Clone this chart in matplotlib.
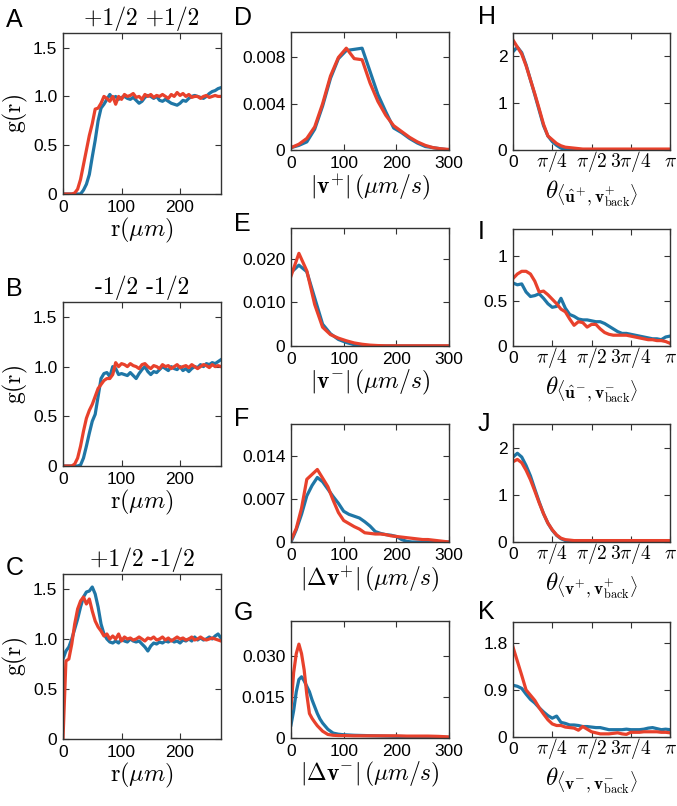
import numpy as np
import matplotlib
matplotlib.use("Agg")
import matplotlib.pyplot as plt

plt.rcParams['font.family'] = ['Liberation Sans', 'DejaVu Sans']
plt.rcParams['mathtext.fontset'] = 'cm'

BLUE = '#1f76a6'
RED = '#e8412c'

# ---- g(r) panels (A, B, C) ----
r = np.arange(0, 271, 5)
A_blue = [0, 0, 0, 0, 0, 0, 0.0, 0.04, 0.1, 0.2, 0.38, 0.55, 0.75, 0.88, 0.92, 0.97, 1.02,
          0.98, 1.0, 0.97, 0.99, 1.0, 0.98, 0.97, 0.99, 0.96, 0.93,
          0.95, 0.99, 1.01, 1.0, 0.98, 1.0, 0.96, 0.95, 0.97, 0.95,
          0.93, 0.92, 0.91, 0.93, 0.96, 0.95, 0.98, 1.0, 1.01, 1.0,
          0.99, 0.98, 1.0, 1.03, 1.05, 1.06, 1.08, 1.09]
A_red = [0, 0, 0, 0, 0.01, 0.05, 0.15, 0.3, 0.45, 0.6, 0.72, 0.87, 0.88, 0.93, 1.0, 0.98, 0.95,
         1.0, 0.92, 1.0, 0.97, 1.02, 1.0, 1.01, 1.03, 0.99, 1.0,
         0.97, 1.02, 1.0, 1.02, 0.99, 1.01, 1.0, 1.02, 1.0, 0.98,
         1.02, 1.0, 1.04, 1.01, 1.03, 1.0, 1.02, 0.99, 1.0, 1.0,
         0.98, 1.0, 1.01, 0.99, 1.0, 1.01, 1.0, 1.0]
B_blue = [0, 0, 0, 0, 0, 0, 0.01, 0.08, 0.2, 0.33, 0.45, 0.52, 0.7, 0.88, 0.93, 0.94, 0.9,
          1.0, 0.98, 0.92, 0.93, 0.92, 0.91, 0.94, 0.91, 0.88, 0.93,
          0.97, 1.0, 0.95, 0.92, 0.95, 0.94, 0.97, 1.0, 0.98, 0.96,
          1.0, 0.98, 0.97, 1.0, 0.96, 0.98, 0.95, 0.98, 1.0, 0.99,
          1.02, 1.0, 1.03, 1.02, 1.04, 1.03, 1.05, 1.07]
B_red = [0, 0, 0, 0, 0.02, 0.08, 0.2, 0.35, 0.48, 0.56, 0.62, 0.7, 0.78, 0.82, 0.86, 0.88, 0.88,
         0.92, 1.04, 1.0, 1.03, 1.02, 1.0, 1.03, 1.01, 1.0, 0.98,
         1.02, 1.03, 1.0, 0.98, 1.01, 1.0, 0.98, 1.02, 1.0, 1.01,
         0.98, 1.0, 1.02, 0.99, 1.0, 1.01, 0.99, 1.02, 1.0, 0.98,
         1.0, 1.02, 1.01, 0.99, 1.02, 1.0, 1.01, 1.0]
C_blue = [0.8, 0.88, 0.92, 1.0, 1.1, 1.2, 1.32, 1.42, 1.47, 1.48, 1.52, 1.45, 1.32, 1.15, 1.05, 1.0, 0.97,
          0.96, 0.98, 0.96, 1.0, 0.98, 0.97, 1.0, 0.98, 0.97, 0.98,
          0.95, 0.92, 0.88, 0.93, 0.96, 0.95, 0.97, 0.96, 0.98, 0.97,
          0.99, 0.97, 0.98, 0.96, 0.99, 0.98, 1.0, 0.98, 1.02, 0.99,
          1.01, 0.99, 1.0, 1.02, 1.0, 1.03, 1.05, 1.01]
C_red = [0.0, 0.78, 0.8, 0.95, 1.15, 1.3, 1.38, 1.42, 1.35, 1.4, 1.28, 1.18, 1.12, 1.08, 1.03, 1.05, 1.0,
         1.03, 1.0, 1.05, 0.98, 1.02, 1.0, 1.01, 0.99, 1.0, 1.02,
         1.0, 0.98, 1.01, 1.0, 1.02, 0.99, 1.0, 1.02, 0.99, 1.01,
         0.98, 1.0, 1.02, 1.0, 1.01, 0.99, 1.0, 1.02, 0.99, 1.0,
         1.02, 1.0, 0.99, 1.0, 1.01, 1.0, 0.99, 0.98]

# ---- speed distributions (D, E, F, G) ----
v15 = np.arange(0, 301, 15)
D_blue = [0.0002, 0.0004, 0.0007, 0.0018, 0.0038, 0.0062, 0.0079, 0.0086, 0.0087, 0.0088, 0.0068,
          0.0048, 0.0033, 0.0019, 0.0015, 0.001, 0.0006, 0.0003, 0.0002, 0.0001, 0.0]
D_red = [0.0002, 0.0005, 0.001, 0.002, 0.004, 0.0064, 0.008, 0.0088, 0.0079, 0.0078, 0.0058,
         0.0042, 0.003, 0.0021, 0.0016, 0.0011, 0.0007, 0.0004, 0.0002, 0.0001, 0.00005]
E_blue = [0.0168, 0.0185, 0.017, 0.011, 0.005, 0.0028, 0.0015, 0.0008, 0.0003, 0.0001] + [0.0] * 11
E_red = [0.016, 0.0212, 0.0172, 0.0095, 0.0043, 0.0026, 0.0018, 0.0012, 0.0007, 0.0004, 0.0002,
         0.0001] + [0.00005] * 9
v10 = np.arange(0, 301, 10)
F_blue = [0.0, 0.002, 0.0045, 0.0075, 0.0092, 0.0105, 0.0098, 0.0086, 0.0074, 0.0063, 0.005,
          0.0045, 0.0042, 0.0039, 0.0033, 0.0026, 0.0017, 0.0014, 0.0012, 0.0011, 0.0009,
          0.0004, 0.0001] + [0.0] * 8
F_red = [0.0003, 0.0022, 0.0055, 0.0102, 0.011, 0.0118, 0.0104, 0.009, 0.0068, 0.0048, 0.0035,
         0.003, 0.0025, 0.0021, 0.0015, 0.0014, 0.0013, 0.0013, 0.0012, 0.001, 0.0009,
         0.0008, 0.0007, 0.0006, 0.0005, 0.0004, 0.0004, 0.0003, 0.0002, 0.0001, 0.0]
vG = [0, 5, 10, 15, 20, 25, 30, 35, 40, 45, 50, 55, 60, 70, 80, 90, 100,
      120, 140, 160, 180, 200, 220, 240, 260, 280, 300]
G_blue = [0.0048, 0.01, 0.017, 0.0215, 0.0225, 0.021, 0.019, 0.017, 0.014, 0.0115, 0.009, 0.007,
          0.0055, 0.0032, 0.0018, 0.0014, 0.0012, 0.001, 0.0009, 0.0008, 0.0007, 0.0006,
          0.0005, 0.0004, 0.0003, 0.0003, 0.0002]
G_red = [0.011, 0.024, 0.031, 0.0345, 0.031, 0.025, 0.016, 0.009, 0.0072, 0.0058, 0.0045, 0.0035,
         0.0025, 0.0013, 0.001, 0.0009, 0.0009, 0.0008, 0.0008, 0.0008, 0.0008, 0.0008,
         0.0007, 0.0007, 0.0007, 0.0006, 0.0004]

# ---- angle distributions (H, I, J, K) ----
theta = np.deg2rad(np.arange(0, 181, 5))
H_blue = [2.1, 2.2, 2.08, 1.82, 1.5, 1.18, 0.85, 0.52, 0.3, 0.18, 0.1, 0.04, 0.01] + [0.0] * 24
H_red = [2.35, 2.2, 2.05, 1.8, 1.5, 1.2, 0.88, 0.55, 0.3, 0.22, 0.14, 0.09, 0.06, 0.05, 0.04,
         0.03] + [0.02] * 21
I_blue = [0.7, 0.68, 0.69, 0.6, 0.55, 0.56, 0.58, 0.53, 0.47, 0.43, 0.44, 0.53, 0.42, 0.35, 0.33,
          0.3, 0.29, 0.29, 0.28, 0.27, 0.27, 0.25, 0.22, 0.19, 0.16, 0.14, 0.14, 0.13, 0.12,
          0.11, 0.1, 0.09, 0.08, 0.08, 0.07, 0.1, 0.11]
I_red = [0.75, 0.8, 0.83, 0.83, 0.8, 0.72, 0.6, 0.61, 0.57, 0.52, 0.47, 0.41, 0.38, 0.3, 0.23,
         0.27, 0.26, 0.21, 0.24, 0.24, 0.19, 0.15, 0.13, 0.12, 0.12, 0.12, 0.12, 0.11, 0.1,
         0.09, 0.08, 0.07, 0.07, 0.06, 0.06, 0.05, 0.03]
J_blue = [1.8, 1.88, 1.8, 1.62, 1.4, 1.12, 0.85, 0.6, 0.4, 0.25, 0.14, 0.07, 0.03, 0.01] + [0.01] * 23
J_red = [1.7, 1.75, 1.68, 1.52, 1.32, 1.08, 0.83, 0.6, 0.4, 0.26, 0.15, 0.08, 0.05, 0.04] + [0.03] * 23
K_blue = [0.99, 0.97, 0.93, 0.82, 0.72, 0.65, 0.56, 0.48, 0.41, 0.36, 0.4, 0.28, 0.26, 0.23, 0.23,
          0.22, 0.2, 0.2, 0.19, 0.18, 0.18, 0.16, 0.14, 0.14, 0.14, 0.14, 0.15, 0.14, 0.14,
          0.14, 0.15, 0.17, 0.18, 0.16, 0.14, 0.15, 0.14]
K_red = [1.72, 1.45, 1.18, 0.9, 0.8, 0.7, 0.56, 0.44, 0.33, 0.25, 0.22, 0.22, 0.19, 0.18, 0.17,
         0.13, 0.2, 0.15, 0.1, 0.08, 0.06, 0.06, 0.06, 0.07, 0.08, 0.06, 0.05, 0.09, 0.09,
         0.09, 0.1, 0.1, 0.1, 0.1, 0.09, 0.09, 0.08]

fig = plt.figure(figsize=(6.77, 8.06), dpi=100)


def px_axes(x0, y0, x1, y1):
    return fig.add_axes([x0 / 677, 1 - y1 / 806, (x1 - x0) / 677, (y1 - y0) / 806])


def style(ax):
    for s in ax.spines.values():
        s.set_color('#333333')
        s.set_linewidth(1.0)
    ax.tick_params(direction='in', top=True, right=True, length=4, width=0.8,
                   labelsize=12.5, color='#333333', pad=4)


def curves(ax, x, b, rr):
    ax.plot(x, b, color=BLUE, lw=2.3)
    ax.plot(x, rr, color=RED, lw=2.3)


# column 1
col1 = [("A", (63, 33, 221, 194), A_blue, A_red, '+1/2 +1/2', 8),
        ("B", (63, 302, 221, 466), B_blue, B_red, '-1/2 -1/2', 277),
        ("C", (63, 574, 221, 739), C_blue, C_red, '+1/2 -1/2', 556)]
for lab, box, b, rr, title, ly in col1:
    ax = px_axes(*box)
    curves(ax, r, b, rr)
    ax.set_xlim(0, 270)
    ax.set_ylim(0, 1.65)
    ax.set_xticks([0, 100, 200])
    ax.set_yticks([0, 0.5, 1.0, 1.5])
    ax.set_yticklabels(['0', '0.5', '1.0', '1.5'])
    ax.set_xlabel(r'$\mathrm{r}(\mu m)$', fontsize=17.5, labelpad=1)
    ax.set_ylabel(r'$\mathrm{g(r)}$', fontsize=17, labelpad=2)
    ax.set_title(title, fontsize=17, pad=6, fontfamily='cmr10')
    style(ax)
    fig.text(6 / 677, 1 - ly / 806, lab, fontsize=18, va='top', ha='left')

# column 2
col2 = [("D", (291, 32, 449, 150), v15, D_blue, D_red, 0.0102, [0, 0.004, 0.008],
         ['0', '0.004', '0.008'], r'$|\mathbf{v}^{+}|\,(\mu m/s)$', 6),
        ("E", (291, 228, 449, 346), v15, E_blue, E_red, 0.027, [0, 0.010, 0.020],
         ['0', '0.010', '0.020'], r'$|\mathbf{v}^{-}|\,(\mu m/s)$', 212),
        ("F", (291, 424, 449, 542), v10, F_blue, F_red, 0.0192, [0, 0.007, 0.014],
         ['0', '0.007', '0.014'], r'$|\Delta\mathbf{v}^{+}|\,(\mu m/s)$', 407),
        ("G", (291, 621, 449, 738), vG, G_blue, G_red, 0.043, [0, 0.015, 0.030],
         ['0', '0.015', '0.030'], r'$|\Delta\mathbf{v}^{-}|\,(\mu m/s)$', 601)]
for lab, box, x, b, rr, ymax, yt, ytl, xl, ly in col2:
    ax = px_axes(*box)
    curves(ax, x, b, rr)
    ax.set_xlim(0, 300)
    ax.set_ylim(0, ymax)
    ax.set_xticks([0, 100, 200, 300])
    ax.set_yticks(yt)
    ax.set_yticklabels(ytl)
    ax.set_xlabel(xl, fontsize=17, labelpad=1)
    style(ax)
    fig.text(234 / 677, 1 - ly / 806, lab, fontsize=18, va='top', ha='left')

# column 3
col3 = [("H", (513, 33, 670, 150), H_blue, H_red, 2.5, [0, 1, 2], ['0', '1', '2'],
         r'$\theta_{\langle\hat{\mathbf{u}}^{+},\mathbf{v}^{+}_{\mathrm{back}}\rangle}$', 5),
        ("I", (513, 229, 670, 346), I_blue, I_red, 1.3, [0, 0.5, 1], ['0', '0.5', '1'],
         r'$\theta_{\langle\hat{\mathbf{u}}^{-},\mathbf{v}^{-}_{\mathrm{back}}\rangle}$', 220),
        ("J", (513, 424, 670, 542), J_blue, J_red, 2.5, [0, 1, 2], ['0', '1', '2'],
         r'$\theta_{\langle\mathbf{v}^{+},\mathbf{v}^{+}_{\mathrm{back}}\rangle}$', 412),
        ("K", (513, 622, 670, 737), K_blue, K_red, 2.2, [0, 0.9, 1.8], ['0', '0.9', '1.8'],
         r'$\theta_{\langle\mathbf{v}^{-},\mathbf{v}^{-}_{\mathrm{back}}\rangle}$', 600)]
for lab, box, b, rr, ymax, yt, ytl, xl, ly in col3:
    ax = px_axes(*box)
    curves(ax, theta, b, rr)
    ax.set_xlim(0, np.pi)
    ax.set_ylim(0, ymax)
    ax.set_xticks([0, np.pi / 4, np.pi / 2, 3 * np.pi / 4, np.pi])
    ax.set_xticklabels(['0', r'$\pi/4$', r'$\pi/2$', r'$3\pi/4$', r'$\pi$'])
    ax.set_yticks(yt)
    ax.set_yticklabels(ytl)
    style(ax)
    ax.tick_params(axis='x', pad=12.5)
    for i, t in enumerate(ax.get_xticklabels()):
        t.set_verticalalignment('baseline')
        if i > 0:
            t.set_fontsize(14)
    ax.set_xlabel(xl, fontsize=18, labelpad=3)
    fig.text(478 / 677, 1 - ly / 806, lab, fontsize=18, va='top', ha='left')

fig.savefig('out.png', dpi=100)
